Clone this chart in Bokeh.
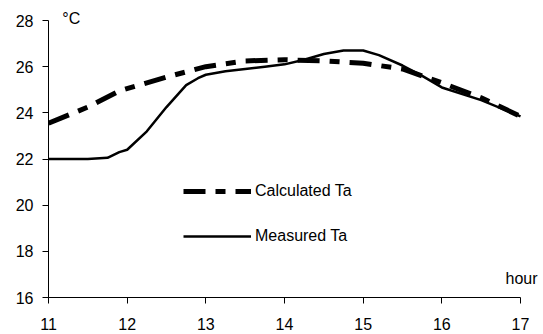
from bokeh.plotting import figure
from bokeh.models import Legend, LegendItem, Label, FixedTicker, Range1d
from bokeh.embed import file_html
from bokeh.resources import INLINE

calc_hour = [11.0, 11.5, 11.9, 12.5, 13.0, 13.5, 14.0, 14.5, 15.0, 15.5, 16.0, 16.5, 17.0]
calc_ta = [23.55, 24.25, 24.95, 25.55, 26.0, 26.25, 26.3, 26.25, 26.15, 25.9, 25.3, 24.65, 23.85]

meas_hour = [11.0, 11.25, 11.5, 11.75, 11.9, 12.0, 12.25, 12.5, 12.75, 12.9, 13.0, 13.25, 13.5, 13.75, 14.0, 14.25, 14.5, 14.75, 15.0, 15.2, 15.5, 15.75, 16.0, 16.5, 17.0]
meas_ta = [22.0, 22.0, 22.0, 22.05, 22.3, 22.4, 23.2, 24.25, 25.2, 25.5, 25.65, 25.8, 25.9, 26.0, 26.1, 26.3, 26.55, 26.7, 26.7, 26.5, 26.05, 25.6, 25.1, 24.55, 23.85]

x_ticks = [11, 12, 13, 14, 15, 16, 17]
y_ticks = [16, 18, 20, 22, 24, 26, 28]

FONT = "Liberation Sans"

# frame extends a little past the last ticks so the unit labels are not clipped
p = figure(width=543, height=334, output_backend="svg", toolbar_location=None,
           x_range=Range1d(11, 17.254), y_range=Range1d(16, 28.52),
           min_border_left=48, min_border_right=3, min_border_top=8, min_border_bottom=37)
p.outline_line_color = None
p.xgrid.visible = False
p.ygrid.visible = False

for ax in (p.xaxis[0], p.yaxis[0]):
    ax.major_tick_in = 0
    ax.major_tick_out = 6
    ax.minor_tick_line_color = None
    ax.axis_line_color = "black"
    ax.major_tick_line_color = "black"
    ax.major_label_text_font = FONT
    ax.major_label_text_font_size = "16px"
    ax.major_label_text_color = "black"
p.xaxis.bounds = (11, 17)
p.yaxis.bounds = (16, 28)
p.xaxis.major_label_standoff = 14
p.yaxis.major_label_standoff = 9
p.xaxis.ticker = FixedTicker(ticks=x_ticks)
p.yaxis.ticker = FixedTicker(ticks=y_ticks)

r_calc = p.line(calc_hour, calc_ta, line_color="black", line_width=5, line_dash="22 10 10 10")
r_meas = p.line(meas_hour, meas_ta, line_color="black", line_width=2.5)

legend = Legend(items=[LegendItem(label="Calculated Ta", renderers=[r_calc]),
                       LegendItem(label="Measured Ta", renderers=[r_meas])],
                location=(135, 51), glyph_width=68, glyph_height=20, label_height=20,
                spacing=25, padding=0, margin=0, border_line_color=None,
                background_fill_alpha=0, label_text_font=FONT, label_text_font_size="16px",
                label_text_color="black", label_standoff=4)
p.add_layout(legend, "center")

p.add_layout(Label(x=11.175, y=28.09, text="°C", text_color="black",
                   text_font=FONT, text_font_size="16px", text_baseline="middle"))
p.add_layout(Label(x=17.216, y=16.82, text="hour", text_color="black",
                   text_font=FONT, text_font_size="16px", text_align="right", text_baseline="middle"))

open("out.html", "w").write(file_html(p, INLINE))
